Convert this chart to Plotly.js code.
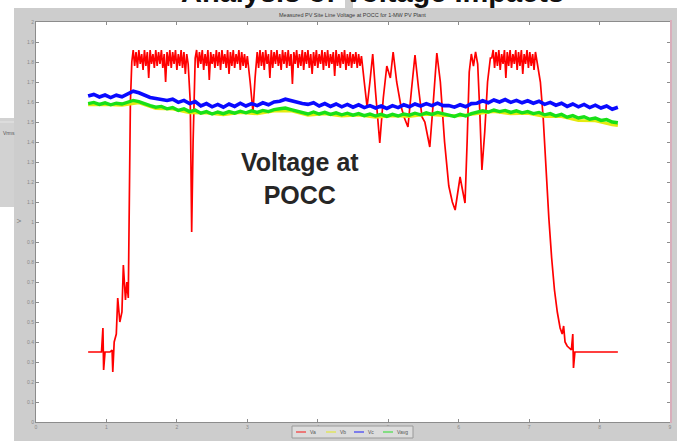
<!DOCTYPE html>
<html>
<head>
<meta charset="utf-8">
<script src="https://cdn.plot.ly/plotly-3.0.1.min.js"></script>
<style>
html,body{margin:0;padding:0;background:#ffffff;}
#chart{width:677px;height:441px;}
</style>
</head>
<body>
<div id="chart"></div>
<script>
// ---------------- DATA ----------------
const seriesNames = ['Va', 'Vb', 'Vc', 'Vavg'];
const xTickVals = [0, 1, 2, 3, 4, 5, 6, 7, 8, 9];
const xTickText = ['0', '1', '2', '3', '4', '5', '6', '7', '8', '9'];

// Red series, read segment by segment
const redRiseT = [0.74, 0.85, 0.93, 0.95, 0.96, 0.98, 1.05, 1.08, 1.09, 1.11, 1.14, 1.16, 1.19, 1.22, 1.24, 1.27, 1.29, 1.31, 1.32, 1.34];
const redRiseV = [0.35, 0.35, 0.35, 0.47, 0.26, 0.35, 0.35, 0.36, 0.25, 0.40, 0.44, 0.62, 0.50, 0.55, 0.785, 0.61, 0.70, 0.62, 1.10, 1.60];

const redPlateauAT = [
  1.36, 1.38, 1.40, 1.42, 1.44, 1.46, 1.48, 1.50, 1.52, 1.54, 1.56, 1.58, 1.60, 1.62, 1.64, 1.66, 1.68, 1.70, 1.72, 1.74,
  1.76, 1.78, 1.80, 1.82, 1.84, 1.86, 1.88, 1.90, 1.92, 1.94, 1.96, 1.98, 2.00, 2.02, 2.04, 2.06, 2.08, 2.10, 2.12, 2.14, 2.16
];
const redPlateauAV = [
  1.80, 1.86, 1.78, 1.85, 1.77, 1.86, 1.79, 1.84, 1.76, 1.86, 1.78, 1.85, 1.72, 1.86, 1.79, 1.84, 1.77, 1.86, 1.78, 1.85,
  1.79, 1.86, 1.77, 1.84, 1.70, 1.85, 1.78, 1.86, 1.77, 1.85, 1.79, 1.86, 1.76, 1.84, 1.78, 1.86, 1.77, 1.85, 1.74, 1.84, 1.79
];
const redDipAT = [2.19, 2.21, 2.23];
const redDipAV = [1.60, 0.95, 1.40];

const redPlateauBT = [
  2.26, 2.28, 2.30, 2.32, 2.34, 2.36, 2.38, 2.40, 2.42, 2.44, 2.46, 2.48, 2.50, 2.52, 2.54, 2.56, 2.58, 2.60, 2.62, 2.64,
  2.66, 2.68, 2.70, 2.72, 2.74, 2.76, 2.78, 2.80, 2.82, 2.84, 2.86, 2.88, 2.90, 2.92, 2.94, 2.96, 2.98, 3.00
];
const redPlateauBV = [
  1.82, 1.86, 1.77, 1.85, 1.79, 1.86, 1.76, 1.84, 1.78, 1.86, 1.71, 1.85, 1.79, 1.84, 1.77, 1.86, 1.78, 1.85, 1.76, 1.86,
  1.79, 1.84, 1.77, 1.86, 1.74, 1.85, 1.78, 1.86, 1.77, 1.84, 1.79, 1.86, 1.76, 1.85, 1.78, 1.84, 1.77, 1.83
];
const redDipBT = [3.04, 3.08, 3.11];
const redDipBV = [1.70, 1.55, 1.72];

const redPlateauCT = [
  3.14, 3.16, 3.18, 3.20, 3.22, 3.24, 3.26, 3.28, 3.30, 3.32, 3.34, 3.36, 3.38, 3.40, 3.42, 3.44, 3.46, 3.48, 3.50, 3.52,
  3.54, 3.56, 3.58, 3.60, 3.62, 3.64, 3.66, 3.68, 3.70, 3.72, 3.74, 3.76, 3.78, 3.80, 3.82, 3.84, 3.86, 3.88, 3.90, 3.92,
  3.94, 3.96, 3.98, 4.00, 4.02, 4.04, 4.06, 4.08, 4.10, 4.12, 4.14, 4.16, 4.18, 4.20, 4.22, 4.24, 4.26, 4.28, 4.30, 4.32,
  4.34, 4.36, 4.38, 4.40, 4.42, 4.44, 4.46, 4.48, 4.50, 4.52, 4.54, 4.56, 4.58, 4.60, 4.62
];
const redPlateauCV = [
  1.85, 1.77, 1.86, 1.78, 1.85, 1.76, 1.86, 1.79, 1.84, 1.72, 1.86, 1.77, 1.85, 1.79, 1.86, 1.78, 1.84, 1.76, 1.86, 1.79,
  1.85, 1.77, 1.86, 1.78, 1.84, 1.69, 1.85, 1.79, 1.86, 1.77, 1.84, 1.78, 1.86, 1.76, 1.85, 1.79, 1.86, 1.77, 1.84, 1.74,
  1.85, 1.78, 1.86, 1.77, 1.84, 1.79, 1.86, 1.76, 1.85, 1.78, 1.86, 1.77, 1.84, 1.79, 1.85, 1.73, 1.86, 1.78, 1.84, 1.77,
  1.85, 1.79, 1.86, 1.76, 1.84, 1.78, 1.85, 1.77, 1.84, 1.79, 1.85, 1.77, 1.84, 1.78, 1.83
];

const redSwingT = [
  4.66, 4.70, 4.74, 4.78, 4.82, 4.88, 4.93, 4.98, 5.03, 5.07, 5.12, 5.18, 5.23, 5.28, 5.33, 5.38, 5.43, 5.48, 5.52, 5.56,
  5.59, 5.64, 5.69, 5.74, 5.80, 5.86, 5.91, 5.95, 5.99, 6.02, 6.06, 6.09, 6.12, 6.15, 6.18, 6.21, 6.24, 6.27, 6.30, 6.33,
  6.37, 6.41, 6.45
];
const redSwingV = [
  1.70, 1.575, 1.70, 1.84, 1.65, 1.395, 1.62, 1.78, 1.72, 1.85, 1.70, 1.58, 1.52, 1.475, 1.66, 1.835, 1.67, 1.525, 1.50, 1.42,
  1.375, 1.60, 1.845, 1.70, 1.40, 1.18, 1.10, 1.06, 1.15, 1.225, 1.15, 1.095, 1.40, 1.75, 1.84, 1.78, 1.85, 1.79, 1.55, 1.26,
  1.45, 1.70, 1.82
];

const redPlateauDT = [
  6.47, 6.49, 6.51, 6.53, 6.55, 6.57, 6.59, 6.61, 6.63, 6.65, 6.67, 6.69, 6.71, 6.73, 6.75, 6.77, 6.79, 6.81, 6.83, 6.85,
  6.87, 6.89, 6.91, 6.93, 6.95, 6.97, 6.99, 7.01, 7.03, 7.05, 7.07, 7.09, 7.11
];
const redPlateauDV = [
  1.82, 1.86, 1.77, 1.85, 1.78, 1.86, 1.76, 1.84, 1.79, 1.86, 1.72, 1.85, 1.78, 1.86, 1.77, 1.84, 1.79, 1.86, 1.76, 1.85,
  1.78, 1.86, 1.74, 1.84, 1.79, 1.86, 1.77, 1.85, 1.78, 1.84, 1.76, 1.85, 1.80
];

const redFallT = [7.16, 7.20, 7.24, 7.28, 7.32, 7.36, 7.40, 7.44, 7.47, 7.49, 7.51, 7.54, 7.57, 7.60, 7.62, 7.63, 7.65, 7.70, 8.00, 8.26];
const redFallV = [1.70, 1.52, 1.25, 1.02, 0.82, 0.66, 0.55, 0.47, 0.44, 0.48, 0.40, 0.38, 0.37, 0.36, 0.44, 0.27, 0.35, 0.35, 0.35, 0.35];

// Shared time base for blue and green series
const bgT = [
  0.74, 0.82, 0.90, 0.98, 1.06, 1.14, 1.22, 1.30, 1.38, 1.46, 1.54, 1.62, 1.70, 1.78, 1.86, 1.94, 2.02, 2.10, 2.18, 2.26,
  2.34, 2.42, 2.50, 2.58, 2.66, 2.74, 2.82, 2.90, 2.98, 3.06, 3.14, 3.22, 3.30, 3.38, 3.46, 3.54, 3.62, 3.70, 3.78, 3.86,
  3.94, 4.02, 4.10, 4.18, 4.26, 4.34, 4.42, 4.50, 4.58, 4.66, 4.74, 4.82, 4.90, 4.98, 5.06, 5.14, 5.22, 5.30, 5.38, 5.46,
  5.54, 5.62, 5.70, 5.78, 5.86, 5.94, 6.02, 6.10, 6.18, 6.26, 6.34, 6.42, 6.50, 6.58, 6.66, 6.74, 6.82, 6.90, 6.98, 7.06,
  7.14, 7.22, 7.30, 7.38, 7.46, 7.54, 7.62, 7.70, 7.78, 7.86, 7.94, 8.02, 8.10, 8.18, 8.26
];
const blueV = [
  1.630, 1.638, 1.625, 1.635, 1.622, 1.634, 1.626, 1.642, 1.654, 1.646, 1.634, 1.623, 1.618, 1.612, 1.608, 1.614, 1.598, 1.608, 1.592, 1.602,
  1.580, 1.592, 1.576, 1.588, 1.574, 1.590, 1.578, 1.594, 1.580, 1.592, 1.582, 1.596, 1.586, 1.600, 1.604, 1.614, 1.606, 1.602, 1.592, 1.588,
  1.596, 1.580, 1.592, 1.578, 1.590, 1.576, 1.588, 1.574, 1.586, 1.572, 1.582, 1.570, 1.580, 1.568, 1.582, 1.572, 1.586, 1.576, 1.590, 1.580,
  1.592, 1.582, 1.594, 1.582, 1.582, 1.574, 1.586, 1.576, 1.592, 1.594, 1.606, 1.596, 1.610, 1.600, 1.612, 1.598, 1.608, 1.596, 1.606, 1.594,
  1.604, 1.588, 1.598, 1.584, 1.594, 1.578, 1.590, 1.576, 1.588, 1.572, 1.584, 1.570, 1.580, 1.564, 1.574
];
const greenV = [
  1.592, 1.598, 1.588, 1.596, 1.586, 1.594, 1.590, 1.600, 1.608, 1.602, 1.590, 1.582, 1.574, 1.578, 1.566, 1.572, 1.558, 1.566, 1.552, 1.560,
  1.544, 1.552, 1.540, 1.550, 1.542, 1.552, 1.544, 1.554, 1.546, 1.556, 1.548, 1.558, 1.552, 1.562, 1.566, 1.570, 1.562, 1.556, 1.548, 1.540,
  1.550, 1.540, 1.548, 1.538, 1.546, 1.536, 1.544, 1.534, 1.542, 1.532, 1.540, 1.530, 1.538, 1.528, 1.538, 1.530, 1.540, 1.534, 1.544, 1.536,
  1.546, 1.538, 1.548, 1.540, 1.534, 1.528, 1.538, 1.530, 1.542, 1.548, 1.556, 1.550, 1.560, 1.552, 1.558, 1.548, 1.556, 1.546, 1.552, 1.542,
  1.548, 1.536, 1.542, 1.530, 1.538, 1.524, 1.532, 1.520, 1.526, 1.514, 1.520, 1.508, 1.512, 1.500, 1.496
];

// Yellow series (mostly hidden under green)
const yellowT = [
  0.74, 0.98, 1.22, 1.46, 1.70, 1.94, 2.18, 2.42, 2.66, 2.90, 3.14, 3.38, 3.62, 3.86, 4.10, 4.34, 4.58, 4.82, 5.06, 5.30,
  5.54, 5.78, 6.02, 6.26, 6.50, 6.74, 6.98, 7.22, 7.46, 7.70, 7.94, 8.18, 8.26
];
const yellowV = [
  1.586, 1.588, 1.584, 1.596, 1.568, 1.565, 1.546, 1.545, 1.536, 1.547, 1.541, 1.555, 1.556, 1.534, 1.541, 1.530, 1.535, 1.524, 1.531, 1.527,
  1.539, 1.533, 1.531, 1.541, 1.553, 1.541, 1.544, 1.527, 1.527, 1.508, 1.506, 1.486, 1.482
];

// ---------------- BUILD ----------------
const redT = [].concat(redRiseT, redPlateauAT, redDipAT, redPlateauBT, redDipBT, redPlateauCT, redSwingT, redPlateauDT, redFallT);
const redV = [].concat(redRiseV, redPlateauAV, redDipAV, redPlateauBV, redDipBV, redPlateauCV, redSwingV, redPlateauDV, redFallV);

const W = 677, H = 441;
const M = {l: 36, r: 7, t: 22, b: 19};
const PW = W - M.l - M.r, PH = H - M.t - M.b;
const px = v => (v - M.l) / PW;          // pixel x -> paper x
const py = v => (H - M.b - v) / PH;      // pixel y -> paper y

const FONT = 'Liberation Sans, Arial, Helvetica, sans-serif';
const colors = ['#ff0000', '#e4ea10', '#0a0aff', '#18e018'];

const traces = [
  {x: redT, y: redV, name: seriesNames[0], type: 'scatter', mode: 'lines',
   line: {color: colors[0], width: 1.7}},
  {x: yellowT, y: yellowV, name: seriesNames[1], type: 'scatter', mode: 'lines',
   line: {color: colors[1], width: 3}},
  {x: bgT, y: blueV, name: seriesNames[2], type: 'scatter', mode: 'lines',
   line: {color: colors[2], width: 3.6}},
  {x: bgT, y: greenV, name: seriesNames[3], type: 'scatter', mode: 'lines',
   line: {color: colors[3], width: 3.4}}
];

const axisCommon = {
  showline: true, mirror: 'ticks', linecolor: '#8c8c8c', linewidth: 1,
  ticks: 'inside', ticklen: 3, tickcolor: '#8c8c8c', showgrid: false, zeroline: false,
  tickfont: {family: FONT, size: 5, color: '#8a8a8a'}
};

const shapes = [
  {type: 'rect', xref: 'paper', yref: 'paper', x0: px(0), x1: px(14), y0: py(441), y1: py(0),
   fillcolor: '#ffffff', line: {width: 0}, layer: 'above'},
  {type: 'rect', xref: 'paper', yref: 'paper', x0: px(0), x1: px(677), y0: py(8), y1: py(0),
   fillcolor: '#ffffff', line: {width: 0}, layer: 'above'},
  {type: 'rect', xref: 'paper', yref: 'paper', x0: px(345), x1: px(353), y0: py(8), y1: py(0),
   fillcolor: '#cfcfcf', line: {width: 0}, layer: 'above'},
  {type: 'rect', xref: 'paper', yref: 'paper', x0: px(0), x1: px(14), y0: py(207), y1: py(118),
   fillcolor: '#d2d2d2', line: {width: 0}, layer: 'above'},
  {type: 'line', xref: 'paper', yref: 'paper', x0: px(0), x1: px(14), y0: py(122), y1: py(122),
   line: {color: '#e6e6e6', width: 1}, layer: 'above'},
  {type: 'line', xref: 'paper', yref: 'paper', x0: px(671), x1: px(671), y0: py(423), y1: py(20),
   line: {color: '#d9aebb', width: 2}, layer: 'above'},
  {type: 'rect', xref: 'paper', yref: 'paper', x0: px(292), x1: px(413), y0: py(438), y1: py(426),
   fillcolor: '#dcdcdc', line: {color: '#9a9a9a', width: 1}, layer: 'above'}
];

const legendX = [296, 326, 354, 383];
const annotations = [
  {xref: 'paper', yref: 'paper', x: px(300), y: py(178), text: '<b>Voltage at<br>POCC</b>', showarrow: false,
   font: {family: FONT, size: 25, color: '#262626'}, xanchor: 'center', yanchor: 'middle'},
  {xref: 'paper', yref: 'paper', x: px(372), y: py(10), text: '<b>Analysis of Voltage Impacts</b>', showarrow: false,
   font: {family: FONT, size: 29, color: '#111111'}, xanchor: 'center', yanchor: 'bottom'},
  {xref: 'paper', yref: 'paper', x: px(352), y: py(15), text: 'Measured PV Site Line Voltage at POCC for 1-MW PV Plant', showarrow: false,
   font: {family: FONT, size: 5.5, color: '#3a3a3a'}, xanchor: 'center', yanchor: 'middle'},
  {xref: 'paper', yref: 'paper', x: px(19), y: py(221), text: 'V', showarrow: false, textangle: -90,
   font: {family: FONT, size: 6, color: '#6a6a6a'}, xanchor: 'center', yanchor: 'middle'},
  {xref: 'paper', yref: 'paper', x: px(1), y: py(133), text: 'Vrms', showarrow: false,
   font: {family: FONT, size: 5, color: '#555555'}, xanchor: 'left', yanchor: 'middle'}
];
seriesNames.forEach((n, i) => {
  shapes.push({type: 'line', xref: 'paper', yref: 'paper', x0: px(legendX[i]), x1: px(legendX[i] + 10),
    y0: py(432), y1: py(432), line: {color: colors[i], width: 1.5}, opacity: 0.6, layer: 'above'});
  annotations.push({xref: 'paper', yref: 'paper', x: px(legendX[i] + 12), y: py(432), text: n, showarrow: false,
    font: {family: FONT, size: 5, color: '#555555'}, xanchor: 'left', yanchor: 'middle'});
});

const layout = {
  width: W, height: H,
  margin: M,
  paper_bgcolor: '#cdcdcd',
  plot_bgcolor: '#ffffff',
  showlegend: false,
  font: {family: FONT},
  xaxis: Object.assign({}, axisCommon, {range: [0, 9], tickvals: xTickVals, ticktext: xTickText}),
  yaxis: Object.assign({}, axisCommon, {range: [0, 2], dtick: 0.1, tick0: 0}),
  shapes: shapes,
  annotations: annotations
};

Plotly.newPlot('chart', traces, layout, {staticPlot: true, displayModeBar: false});
</script>
</body>
</html>
